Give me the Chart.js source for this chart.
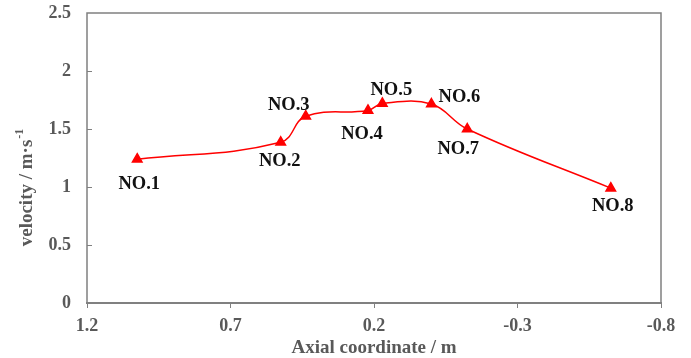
<!DOCTYPE html>
<html>
<head>
<meta charset="utf-8">
<script src="https://cdn.jsdelivr.net/npm/chart.js@4/dist/chart.umd.min.js"></script>
<style>
  html, body { margin: 0; padding: 0; background: #fff; }
</style>
</head>
<body>
<canvas id="myChart" width="691" height="358"></canvas>
<script>
// Values
const pointNames = ['NO.1', 'NO.2', 'NO.3', 'NO.4', 'NO.5', 'NO.6', 'NO.7', 'NO.8'];
const axialCoord = [1.025, 0.525, 0.438, 0.221, 0.171, 0.0, -0.125, -0.625];
const velocity = [1.24, 1.385, 1.61, 1.66, 1.72, 1.715, 1.50, 0.99];
const xTickValues = [1.2, 0.7, 0.2, -0.3, -0.8];
const yTickValues = [0, 0.5, 1, 1.5, 2, 2.5];

const serif = 'Liberation Serif, Times New Roman, serif';
const gray = '#595959';
const axisGray = '#808080';

// where each point name sits, relative to its marker (px)
const labelOffsets = [[2, 25], [-1, 19], [-17, -11], [-6, 24], [9, -13], [28, -7], [-9, 20], [2, 18]];

const pointLabels = {
    id: 'pointLabels',
    afterDatasetsDraw(chart) {
        const ctx = chart.ctx;
        const meta = chart.getDatasetMeta(0);
        ctx.save();
        ctx.font = 'bold 18.5px ' + serif;
        ctx.fillStyle = '#111';
        ctx.textAlign = 'center';
        ctx.textBaseline = 'middle';
        meta.data.forEach((pt, i) => {
            const off = labelOffsets[i];
            ctx.fillText(pointNames[i], pt.x + off[0], pt.y + off[1]);
        });
        ctx.restore();
    }
};

const frame = {
    id: 'frame',
    afterDraw(chart) {
        const ctx = chart.ctx;
        const a = chart.chartArea;
        const y = chart.scales.y;
        ctx.save();
        ctx.strokeStyle = axisGray;
        ctx.lineWidth = 1.5;
        ctx.beginPath();
        ctx.moveTo(a.left, a.bottom);
        ctx.lineTo(a.left, a.top);
        ctx.lineTo(a.right, a.top);
        ctx.lineTo(a.right, a.bottom);
        ctx.stroke();
        // inside ticks on the value axis
        ctx.lineWidth = 1;
        yTickValues.forEach(v => {
            if (v === 0 || v === 2.5) return;
            const py = Math.round(y.getPixelForValue(v)) + 0.5;
            ctx.beginPath();
            ctx.moveTo(a.left, py);
            ctx.lineTo(a.left + 5, py);
            ctx.stroke();
        });
        // y axis title with superscript
        ctx.translate(27, 188);
        ctx.rotate(-Math.PI / 2);
        ctx.fillStyle = gray;
        ctx.textBaseline = 'middle';
        const main = 'velocity / m·s';
        const sup = '-1';
        ctx.font = 'bold 19px ' + serif;
        const w1 = ctx.measureText(main).width;
        ctx.font = 'bold 12px ' + serif;
        const w2 = ctx.measureText(sup).width;
        const start = -(w1 + w2) / 2;
        ctx.font = 'bold 19px ' + serif;
        ctx.textAlign = 'left';
        ctx.fillText(main, start, 0);
        ctx.font = 'bold 12px ' + serif;
        ctx.fillText(sup, start + w1 + 1, -7);
        ctx.restore();
    }
};

const ctx = document.getElementById('myChart').getContext('2d');
new Chart(ctx, {
    type: 'line',
    data: {
        datasets: [{
            label: 'velocity',
            data: axialCoord.map((x, i) => ({ x: x, y: velocity[i] })),
            borderColor: '#ff0000',
            backgroundColor: '#ff0000',
            borderWidth: 1.5,
            tension: 0.4,
            pointStyle: 'triangle',
            pointRadius: 5.5,
            pointHoverRadius: 5.5,
            fill: false,
        }]
    },
    options: {
        responsive: false,
        animation: false,
        layout: { padding: { left: 0, right: 30, top: 13, bottom: 0 } },
        plugins: {
            legend: { display: false },
            tooltip: { enabled: false }
        },
        scales: {
            x: {
                type: 'linear',
                reverse: true,
                min: -0.8,
                max: 1.2,
                afterBuildTicks: s => { s.ticks = xTickValues.map(v => ({ value: v })); },
                afterFit: s => { s.height = 55; },
                grid: { drawOnChartArea: false, drawTicks: true, tickLength: 5, color: axisGray },
                border: { display: true, color: axisGray, width: 2 },
                ticks: {
                    padding: 8,
                    color: gray,
                    maxRotation: 0,
                    font: { family: serif, weight: 'bold', size: 18 },
                    callback: v => String(v)
                },
                title: {
                    display: true,
                    text: 'Axial coordinate / m',
                    color: gray,
                    padding: 0,
                    font: { family: serif, weight: 'bold', size: 19, lineHeight: 1.0 }
                }
            },
            y: {
                min: 0,
                max: 2.5,
                afterBuildTicks: s => { s.ticks = yTickValues.map(v => ({ value: v })); },
                afterFit: s => { s.width = 87; s.paddingTop = 0; s.paddingBottom = 0; },
                grid: { display: false, drawTicks: false },
                border: { display: false },
                ticks: {
                    padding: 16,
                    color: gray,
                    font: { family: serif, weight: 'bold', size: 18 },
                    callback: v => String(v)
                }
            }
        }
    },
    plugins: [pointLabels, frame]
});
</script>
</body>
</html>
